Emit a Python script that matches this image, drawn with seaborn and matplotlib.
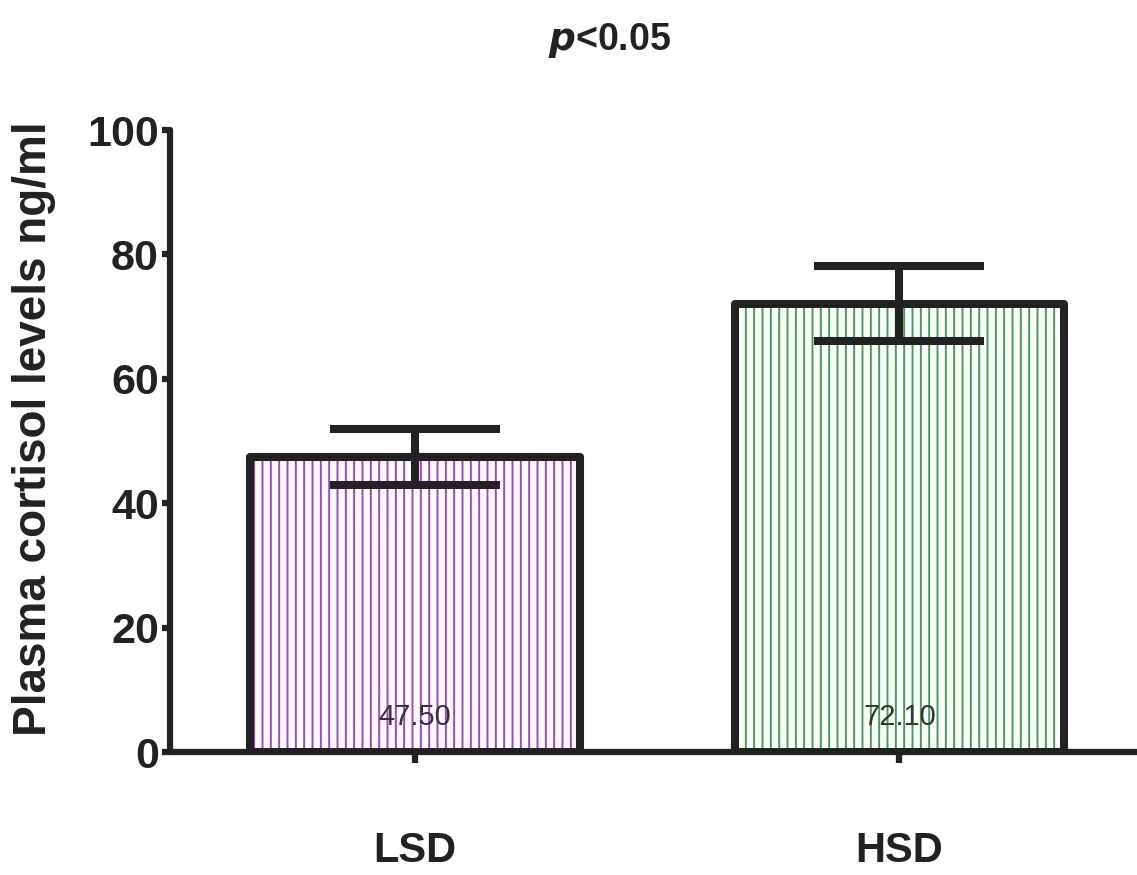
import numpy as np
import pandas as pd
import matplotlib
matplotlib.use('Agg')
import matplotlib.pyplot as plt
import seaborn as sns
from matplotlib.patches import Rectangle

# data
groups = ['LSD', 'HSD']
means = [47.50, 72.10]
sems = [4.5, 6.0]
value_labels = ['47.50', '72.10']
hatch_colors = ['#a23fd0', '#3aa34a']
yticks = [0, 20, 40, 60, 80, 100]

sns.set_theme(style='white')
plt.rcParams['font.family'] = ['Liberation Sans', 'DejaVu Sans']
plt.rcParams['hatch.linewidth'] = 1.4

ink = '#222222'
df = pd.DataFrame({'group': groups, 'mean': means})

fig = plt.figure(figsize=(11.37, 8.75), dpi=100)
ax = fig.add_axes([170 / 1137, 123 / 875, 967 / 1137, 622 / 875])

# hatched bars (edge colour drives the hatch colour)
sns.barplot(data=df, x='group', y='mean', hue='group', palette=hatch_colors,
            width=0.68, errorbar=None, legend=False, ax=ax,
            fill=True, linewidth=0, hatch='||')
for p, c in zip(ax.patches, hatch_colors):
    p.set_facecolor('white')
    p.set_edgecolor(c)
    p.set_linewidth(0)
    # thick dark outline on top
    ax.add_patch(Rectangle(p.get_xy(), p.get_width(), p.get_height(),
                           fill=False, edgecolor=ink, linewidth=5.8,
                           joinstyle='round', zorder=3))

ax.errorbar(x=np.arange(len(groups)), y=means, yerr=sems, fmt='none',
            ecolor=ink, elinewidth=5.8, capsize=61, capthick=5.8, zorder=4)

for i, lab in enumerate(value_labels):
    ax.text(i, 5.6, lab, ha='center', va='center', fontsize=21, color='#333333', zorder=5)

ax.set_ylim(0, 100)
ax.set_xlim(-0.505, 1.49)
ax.set_yticks(yticks)
ax.set_xticks(range(len(groups)))
ax.set_xticklabels(groups)

sns.despine(ax=ax, top=True, right=True)
for side in ['left', 'bottom']:
    ax.spines[side].set_linewidth(4.5)
    ax.spines[side].set_color(ink)
    ax.spines[side].set_capstyle('round')

ax.tick_params(axis='y', direction='out', length=6, width=4.5, color=ink,
               labelsize=31, labelcolor=ink, pad=2, left=True)
ax.tick_params(axis='x', direction='out', length=8, width=4.5, color=ink,
               labelsize=30, labelcolor=ink, pad=49, bottom=True)
for t in ax.get_xticklabels() + ax.get_yticklabels():
    t.set_fontweight('bold')

ax.set_xlabel('')
ax.set_ylabel('Plasma cortisol levels ng/ml', fontsize=33, fontweight='bold',
              color=ink, labelpad=26)
ax.yaxis.set_label_coords(-0.118, 0.52)

fig.text(610 / 1137, 1 - 40 / 875, r'$\mathbfit{p}$<0.05', ha='center', va='center',
         fontsize=27, fontweight='bold', color=ink)

fig.savefig('out.png', dpi=100)
